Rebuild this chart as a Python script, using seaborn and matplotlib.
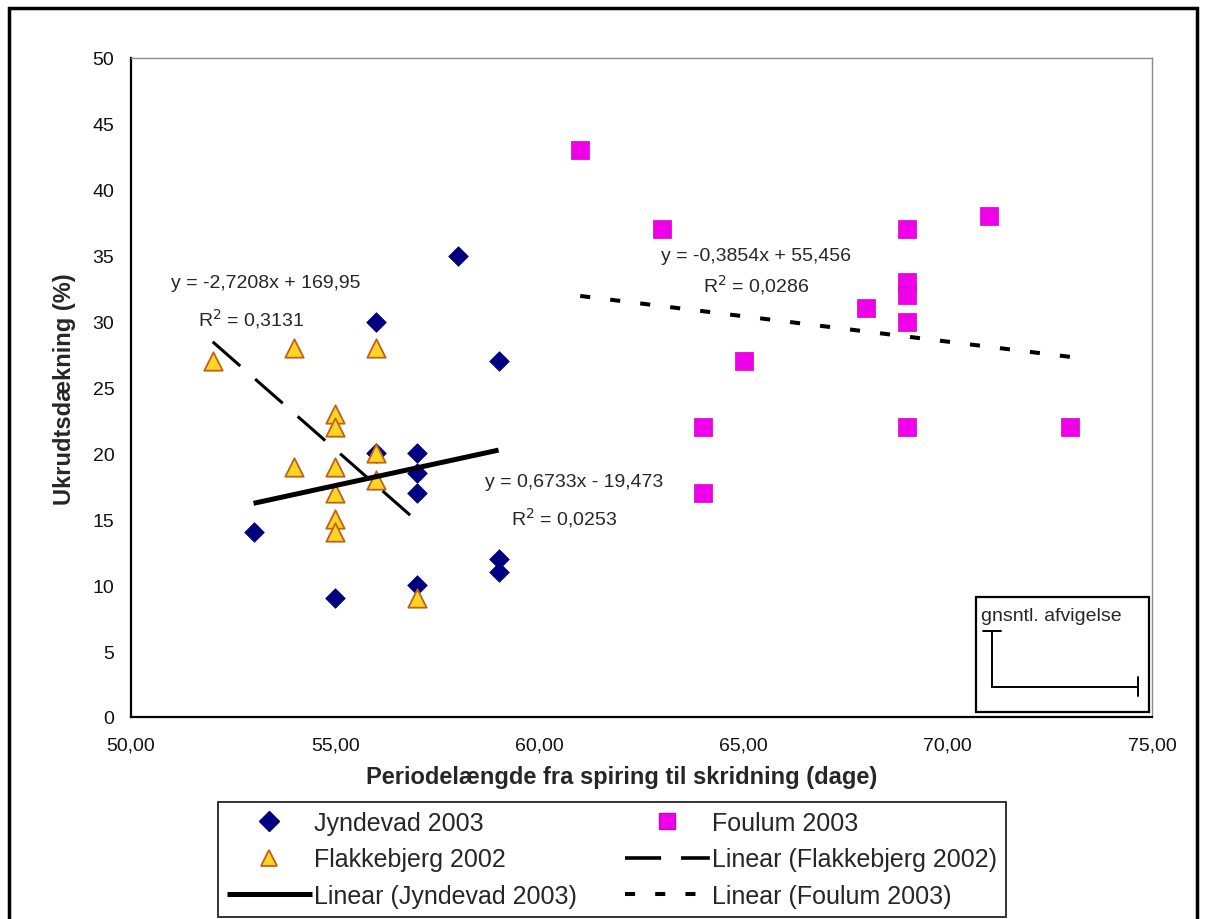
import numpy as np
import pandas as pd
import matplotlib
matplotlib.use("Agg")
import matplotlib.pyplot as plt
import seaborn as sns
from matplotlib.lines import Line2D
from matplotlib.patches import Rectangle

# ---------------- data ----------------
jyn_x = [53, 55, 56, 56, 57, 57, 57, 57, 58, 59, 59, 59]
jyn_y = [14, 9, 30, 20, 20, 18.5, 17, 10, 35, 27, 12, 11]
fla_x = [52, 54, 54, 55, 55, 55, 55, 55, 55, 56, 56, 56, 57]
fla_y = [27, 28, 19, 23, 22, 19, 17, 15, 14, 28, 20, 18, 9]
fou_x = [61, 63, 64, 64, 65, 68, 69, 69, 69, 69, 69, 71, 73]
fou_y = [43, 37, 22, 17, 27, 31, 37, 33, 32, 30, 22, 38, 22]

series_names = ["Jyndevad 2003", "Flakkebjerg 2002", "Foulum 2003"]
trend_slopes = [0.6733, -2.7208, -0.3854]
trend_intercepts = [-19.473, 169.95, 55.456]
eq_labels = ["y = 0,6733x - 19,473\nR$^2$ = 0,0253",
             "y = -2,7208x + 169,95\nR$^2$ = 0,3131",
             "y = -0,3854x + 55,456\nR$^2$ = 0,0286"]

x_ticks = [50, 55, 60, 65, 70, 75]
x_ticklabels = ["50,00", "55,00", "60,00", "65,00", "70,00", "75,00"]
y_ticks = [0, 5, 10, 15, 20, 25, 30, 35, 40, 45, 50]
y_ticklabels = ["0", "5", "10", "15", "20", "25", "30", "35", "40", "45", "50"]

x_label = "Periodelængde fra spiring til skridning (dage)"
y_label = "Ukrudtsdækning (%)"
inset_label = "gnsntl. afvigelse"

# ---------------- style ----------------
sns.set_theme(style="white")
plt.rcParams["font.family"] = ["Liberation Sans", "DejaVu Sans"]

W, H = 1206, 920
fig = plt.figure(figsize=(W / 100, H / 100), dpi=100)
fig.patch.set_facecolor("white")

def fx(px):
    return px / W

def fy(py):
    return 1 - py / H

ax = fig.add_axes([fx(131), fy(718), fx(1152) - fx(131), fy(59) - fy(718)])

df_j = pd.DataFrame({"x": jyn_x, "y": jyn_y})
df_f = pd.DataFrame({"x": fla_x, "y": fla_y})
df_o = pd.DataFrame({"x": fou_x, "y": fou_y})

navy = "#000080"
yellow = "#FFD524"
orange_edge = "#C0601A"
magenta = "#F000E8"

sns.scatterplot(data=df_j, x="x", y="y", marker="D", s=100, color=navy,
                edgecolor=navy, linewidth=0.5, ax=ax, zorder=3)
sns.scatterplot(data=df_f, x="x", y="y", marker="^", s=175, color=yellow,
                edgecolor=orange_edge, linewidth=1.3, ax=ax, zorder=4)
sns.scatterplot(data=df_o, x="x", y="y", marker="s", s=165, color=magenta,
                edgecolor="#D000C8", linewidth=0.5, ax=ax, zorder=3)

# trend lines from the reported equations
line_styles = [
    dict(lw=3.6, dashes=None),
    dict(lw=2.2, dashes=(12, 6.5)),
    dict(lw=2.9, dashes=(2.5, 5)),
]
for xs, a, b, st in zip([jyn_x, fla_x, fou_x], trend_slopes, trend_intercepts, line_styles):
    xr = np.array([min(xs), max(xs)], dtype=float)
    tdf = pd.DataFrame({"x": xr, "y": a * xr + b})
    sns.lineplot(data=tdf, x="x", y="y", color="black", lw=st["lw"], ax=ax, zorder=5)
    l = ax.lines[-1]
    l.set_solid_capstyle("butt")
    l.set_dash_capstyle("butt")
    if st["dashes"] is not None:
        l.set_dashes(st["dashes"])

# equation annotations
ax.text(60.85, 17.9, eq_labels[0].split("\n")[0], ha="center", va="center", fontsize=14)
ax.text(60.6, 15.2, eq_labels[0].split("\n")[1], ha="center", va="center", fontsize=14)
ax.text(53.3, 33.0, eq_labels[1].split("\n")[0], ha="center", va="center", fontsize=14)
ax.text(52.95, 30.3, eq_labels[1].split("\n")[1], ha="center", va="center", fontsize=14)
ax.text(65.3, 35.0, eq_labels[2].split("\n")[0], ha="center", va="center", fontsize=14)
ax.text(65.3, 32.85, eq_labels[2].split("\n")[1], ha="center", va="center", fontsize=14)

# axes formatting
ax.set_xlim(50, 75)
ax.set_ylim(0, 50)
ax.set_xticks(x_ticks)
ax.set_xticklabels(x_ticklabels)
ax.set_yticks(y_ticks)
ax.set_yticklabels(y_ticklabels)
ax.tick_params(axis="both", which="major", direction="out", length=6, width=1.3,
               color="black", labelsize=14, labelcolor="#111111")
ax.tick_params(axis="x", pad=8)
ax.tick_params(axis="y", pad=6)
ax.set_xlabel("")
ax.set_ylabel("")
for side in ["left", "bottom"]:
    ax.spines[side].set_color("black")
    ax.spines[side].set_linewidth(1.6)
for side in ["top", "right"]:
    ax.spines[side].set_color("#8a8a8a")
    ax.spines[side].set_linewidth(1.0)
ax.grid(False)

fig.text(fx(622), fy(778), x_label, ha="center", va="center",
         fontsize=17, fontweight="bold")
fig.text(fx(64), fy(389), y_label, ha="center", va="center", rotation=90,
         fontsize=17, fontweight="bold")

# inset "gnsntl. afvigelse" box
fig.patches.append(Rectangle((fx(976), fy(713)), fx(1149) - fx(976), fy(598) - fy(713),
                             transform=fig.transFigure, fill=False,
                             edgecolor="black", linewidth=1.6, zorder=6))
fig.text(fx(981), fy(617), inset_label, ha="left", va="center", fontsize=14)
for xs_, ys_ in [([992, 992], [632, 688]), ([983, 1001], [632, 632]),
                 ([992, 1138], [688, 688]), ([1138, 1138], [678, 697])]:
    fig.lines.append(Line2D([fx(v) for v in xs_], [fy(v) for v in ys_],
                            transform=fig.transFigure, color="black", lw=1.4))

# legend
handles = [
    Line2D([], [], ls="none", marker="D", ms=10, color=navy, mec=navy),
    Line2D([], [], ls="none", marker="^", ms=12, color=yellow, mec=orange_edge, mew=1.3),
    Line2D([], [], color="black", lw=3.6, solid_capstyle="butt"),
    Line2D([], [], ls="none", marker="s", ms=12, color=magenta, mec="#D000C8"),
    Line2D([], [], color="black", lw=2.6, dashes=(10, 5.5, 8, 100), dash_capstyle="butt"),
    Line2D([], [], color="black", lw=2.9, dashes=(2.5, 5), dash_capstyle="butt"),
]
labels = [series_names[0], series_names[1], "Linear (Jyndevad 2003)",
          series_names[2], "Linear (Flakkebjerg 2002)", "Linear (Foulum 2003)"]
leg = fig.legend(handles, labels, loc="upper left", bbox_to_anchor=(fx(218), fy(803)),
                 ncol=2, fontsize=18, frameon=True, fancybox=False, shadow=False,
                 edgecolor="black", handlelength=3.4, handletextpad=0.1,
                 columnspacing=1.9, labelspacing=0.5, borderpad=0.35,
                 borderaxespad=0.0)
leg.get_frame().set_linewidth(1.4)

# outer chart border
fig.patches.append(Rectangle((fx(9), -0.02), fx(1197) - fx(9), fy(9) + 0.02,
                             transform=fig.transFigure, fill=False,
                             edgecolor="black", linewidth=2.5, zorder=10))

fig.savefig("out.png", dpi=100)
